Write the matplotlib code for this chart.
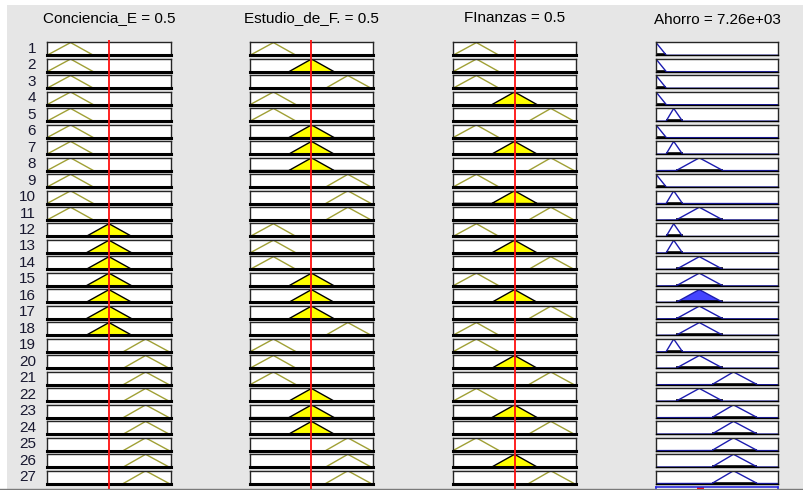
import numpy as np
import matplotlib.pyplot as plt
from matplotlib.lines import Line2D
from matplotlib.patches import Rectangle

plt.rcParams['font.family'] = ['Liberation Sans', 'DejaVu Sans']

input_names = ['Conciencia_E', 'Estudio_de_F.', 'FInanzas']
input_values = [0.5, 0.5, 0.5]
output_name = 'Ahorro'
output_value = 7.26e3
output_range = [0, 20000]

# input MFs (low, medium, high) on [0, 1]
in_mf_params = [[0.0, 0.19, 0.375],
                [0.315, 0.5, 0.685],
                [0.615, 0.795, 0.985]]
# output MFs
out_mf_params = [[-1700, 0, 1700],
                 [1650, 2900, 4350],
                 [3300, 7100, 10950],
                 [9150, 12700, 16600]]

# rule table, MF index per rule (1-based)
conciencia = [1, 1, 1, 1, 1, 1, 1, 1, 1, 1, 1, 2, 2, 2, 2, 2, 2, 2, 3, 3, 3, 3, 3, 3, 3, 3, 3]
estudio = [1, 2, 3, 1, 1, 2, 2, 2, 3, 3, 3, 1, 1, 1, 2, 2, 2, 3, 1, 1, 1, 2, 2, 2, 3, 3, 3]
finanzas = [1, 1, 1, 2, 3, 1, 2, 3, 1, 2, 3, 1, 2, 3, 1, 2, 3, 1, 1, 2, 3, 1, 2, 3, 1, 2, 3]
ahorro = [1, 1, 1, 1, 2, 1, 2, 3, 1, 2, 3, 2, 2, 3, 3, 3, 3, 3, 2, 3, 4, 3, 4, 4, 4, 4, 4]
rule_inputs = [conciencia, estudio, finanzas]


def trimf(x, p):
    a, b, c = p
    x = np.asarray(x, dtype=float)
    left = np.where(b > a, (x - a) / (b - a if b != a else 1), 1.0)
    right = np.where(c > b, (c - x) / (c - b if c != b else 1), 1.0)
    return np.clip(np.minimum(left, right), 0, 1)


W, H = 804, 490
fig = plt.figure(figsize=(W / 100, H / 100), dpi=100, facecolor='white')
fig.add_artist(Rectangle((7 / W, 0), 1, 1 - 5 / H, transform=fig.transFigure,
                         facecolor='#e6e6e6', edgecolor='none', zorder=-10))


def px_axes(x0, y0, x1, y1):
    return fig.add_axes([x0 / W, 1 - y1 / H, (x1 - x0) / W, (y1 - y0) / H])


col_x = [(47, 171), (250, 373), (453, 576), (656, 778)]
row_top0 = 42.3
row_pitch = 16.47
row_h = 13.0
n_rules = len(ahorro)

olive = '#a0a035'
navy = '#1c1cb0'

x_in = np.linspace(0, 1, 601)
x_out = np.linspace(output_range[0], output_range[1], 801)

for r in range(n_rules):
    top = row_top0 + r * row_pitch
    bot = top + row_h
    fig.text(36 / W, 1 - (top + row_h / 2) / H, str(r + 1), ha='right', va='center',
             fontsize=11, color='#181830')
    mus = []
    for j in range(3):
        p = in_mf_params[rule_inputs[j][r] - 1]
        mus.append(float(trimf(input_values[j], p)))
    w = min(mus)
    for j in range(4):
        x0, x1 = col_x[j]
        ax = px_axes(x0, top, x1, bot)
        ax.set_xticks([])
        ax.set_yticks([])
        ax.set_ylim(0, 1.02)
        for s in ['top', 'left', 'right']:
            ax.spines[s].set_linewidth(1.0)
            ax.spines[s].set_color('#252525')
        ax.spines['bottom'].set_linewidth(2.2)
        ax.spines['bottom'].set_color('black')
        if j < 3:
            ax.set_xlim(0, 1)
            p = in_mf_params[rule_inputs[j][r] - 1]
            y = trimf(x_in, p)
            if mus[j] > 0:
                yc = np.minimum(y, mus[j])
                ax.fill(x_in, yc, facecolor='#ffff00', edgecolor='black', lw=1.0)
            else:
                xs = np.linspace(p[0], p[2], 200)
                ax.plot(xs, trimf(xs, p), color=olive, lw=1.0)
        else:
            ax.set_xlim(*output_range)
            p = out_mf_params[ahorro[r] - 1]
            y = trimf(x_out, p)
            ax.spines['bottom'].set_linewidth(1.0)
            ax.plot([max(p[0], 0), p[2]], [0, 0], color='black', lw=2.6, solid_capstyle='butt')
            if w > 0:
                ax.fill_between(x_out, 0, np.minimum(y, w), facecolor='#4444ff', edgecolor='none')
            ax.plot(x_out, y, color=navy, lw=1.0)

# titles
for j in range(3):
    cx = (col_x[j][0] + col_x[j][1]) / 2
    fig.text(cx / W, 1 - 18.5 / H, f'{input_names[j]} = {input_values[j]:.3g}',
             ha='center', va='center', fontsize=11)
cx = (col_x[3][0] + col_x[3][1]) / 2
fig.text(cx / W, 1 - 19.5 / H, f'{output_name} = {output_value:.3g}',
         ha='center', va='center', fontsize=11)

# red lines at the input values
for j in range(3):
    x0, x1 = col_x[j]
    ov = px_axes(x0, 40, x1, 490)
    ov.set_xlim(0, 1)
    ov.axis('off')
    ov.patch.set_alpha(0)
    ov.axvline(input_values[j], color='#ff1010', lw=1.3)

# bottom separator and aggregated output axis
fig.add_artist(Line2D([0, 1], [1 - 488.5 / H] * 2, transform=fig.transFigure,
                      color='#7a7a7a', lw=1.0))
agg = px_axes(656, 487, 778, 500)
agg.set_xlim(*output_range)
agg.set_xticks([])
agg.set_yticks([])
for s in agg.spines.values():
    s.set_color('#2a2ae0')
    s.set_linewidth(1.2)
agg.axvline(output_value, color='red', lw=5)

fig.savefig('out.png', dpi=100, facecolor=fig.get_facecolor())
